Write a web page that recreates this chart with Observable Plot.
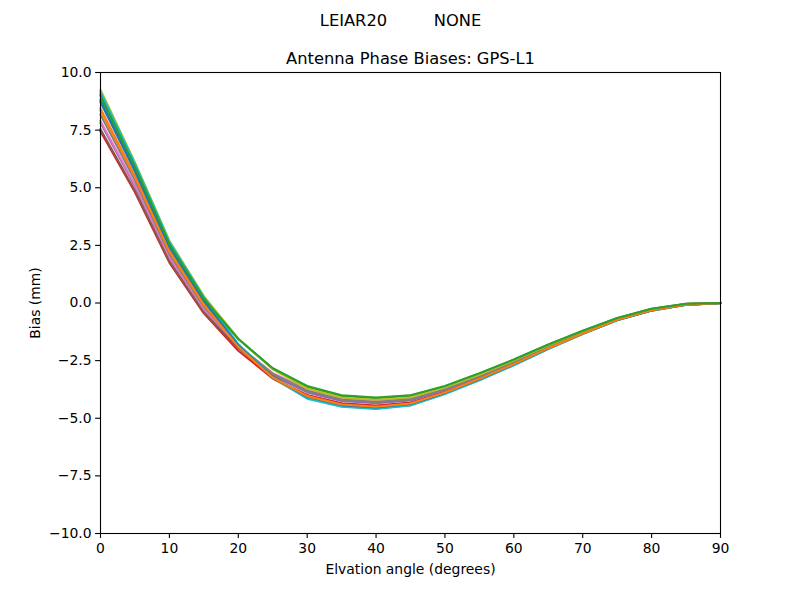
<!DOCTYPE html>
<html>
<head>
<meta charset="utf-8">
<script src="https://cdn.jsdelivr.net/npm/d3@7"></script>
<script src="https://cdn.jsdelivr.net/npm/@observablehq/plot@0.6"></script>
<style>
  html, body { margin: 0; padding: 0; background: #fff; }
  svg text { white-space: pre; }
</style>
</head>
<body>
<div id="chart"></div>
<script>
const elevations = [0,5,10,15,20,25,30,35,40,45,50,55,60,65,70,75,80,85,90];
const xTicks = [0,10,20,30,40,50,60,70,80,90];
const yTicks = [-10,-7.5,-5,-2.5,0,2.5,5,7.5,10];
const colors = ["#1f77b4","#ff7f0e","#2ca02c","#d62728","#9467bd","#8c564b","#e377c2","#7f7f7f","#bcbd22","#17becf"];

const series00 = [8.80,5.78,2.46,0.11,-1.83,-3.22,-4.10,-4.45,-4.55,-4.41,-3.92,-3.32,-2.68,-1.98,-1.34,-0.74,-0.32,-0.08,0];
const series01 = [8.44,5.52,2.27,-0.04,-1.92,-3.28,-4.12,-4.48,-4.58,-4.43,-3.93,-3.34,-2.69,-1.99,-1.34,-0.75,-0.33,-0.08,0];
const series02 = [9.07,5.97,2.61,0.23,-1.55,-2.84,-3.63,-4.03,-4.13,-4.02,-3.62,-3.07,-2.46,-1.81,-1.21,-0.66,-0.25,-0.03,0];
const series03 = [7.45,4.80,1.75,-0.45,-2.07,-3.27,-3.99,-4.35,-4.45,-4.32,-3.85,-3.26,-2.63,-1.94,-1.31,-0.72,-0.31,-0.07,0];
const series04 = [7.81,5.06,1.94,-0.30,-1.94,-3.15,-3.88,-4.25,-4.35,-4.23,-3.78,-3.20,-2.58,-1.90,-1.28,-0.70,-0.29,-0.06,0];
const series05 = [7.54,4.87,1.80,-0.41,-1.95,-3.10,-3.77,-4.15,-4.25,-4.14,-3.71,-3.14,-2.53,-1.86,-1.25,-0.68,-0.27,-0.05,0];
const series06 = [7.90,5.13,1.99,-0.26,-1.86,-3.04,-3.74,-4.13,-4.23,-4.11,-3.69,-3.13,-2.51,-1.85,-1.24,-0.68,-0.27,-0.04,0];
const series07 = [8.17,5.32,2.13,-0.15,-1.84,-3.08,-3.82,-4.20,-4.30,-4.18,-3.74,-3.17,-2.55,-1.88,-1.26,-0.69,-0.28,-0.05,0];
const series08 = [9.25,6.10,2.70,0.30,-1.55,-2.88,-3.71,-4.10,-4.20,-4.09,-3.67,-3.11,-2.50,-1.84,-1.23,-0.67,-0.27,-0.04,0];
const series09 = [9.16,6.04,2.65,0.26,-1.78,-3.23,-4.15,-4.50,-4.60,-4.45,-3.95,-3.35,-2.70,-2.00,-1.35,-0.75,-0.33,-0.08,0];
const series10 = [8.71,5.71,2.42,0.08,-1.84,-3.21,-4.07,-4.43,-4.53,-4.38,-3.90,-3.31,-2.66,-1.97,-1.33,-0.74,-0.32,-0.07,0];
const series11 = [8.35,5.45,2.23,-0.08,-1.90,-3.23,-4.04,-4.40,-4.50,-4.36,-3.88,-3.29,-2.65,-1.96,-1.32,-0.73,-0.31,-0.07,0];
const series12 = [8.98,5.91,2.56,0.19,-1.56,-2.83,-3.60,-4.00,-4.10,-4.00,-3.60,-3.05,-2.45,-1.80,-1.20,-0.65,-0.25,-0.03,0];

const allSeries = [series00,series01,series02,series03,series04,series05,series06,series07,series08,series09,series10,series11,series12];

const font = "DejaVu Sans, sans-serif";
const tickFont = 13.9;
const titleFont = 16.3;

const lineMarks = allSeries.map((s, i) =>
  Plot.line(elevations.map((e, j) => ({el: e, bias: s[j]})), {
    x: "el", y: "bias", stroke: colors[i % colors.length], strokeWidth: 2.08,
    strokeLinejoin: "round", strokeLinecap: "square"
  })
);

const chart = Plot.plot({
  width: 800,
  height: 600,
  marginLeft: 100,
  marginRight: 80,
  marginTop: 72,
  marginBottom: 67,
  style: {fontFamily: font, fontSize: tickFont + "px", color: "black", background: "white", overflow: "visible"},
  x: {domain: [0, 90]},
  y: {domain: [-10, 10]},
  marks: [
    ...lineMarks,
    Plot.frame({stroke: "black", strokeWidth: 1.1}),
    Plot.axisX({ticks: xTicks, tickSize: 4.9, tickPadding: 5, strokeWidth: 1.1, tickFormat: d3.format("d"), fontSize: tickFont, label: null}),
    Plot.axisY({ticks: yTicks, tickSize: 4.9, tickPadding: 4, strokeWidth: 1.1, tickFormat: d3.format(".1f"), fontSize: tickFont, label: null}),
    Plot.text(["Elvation angle (degrees)"], {frameAnchor: "bottom", lineAnchor: "middle", dy: 36, fontSize: tickFont, fill: "black"}),
    Plot.text(["Bias (mm)"], {frameAnchor: "left", textAnchor: "middle", lineAnchor: "middle", dx: -65, rotate: -90, fontSize: tickFont, fill: "black"}),
    Plot.text(["Antenna Phase Biases: GPS-L1"], {frameAnchor: "top", lineAnchor: "middle", dy: -14, fontSize: titleFont, fill: "black"}),
    Plot.text(["LEIAR20         NONE"], {frameAnchor: "top", lineAnchor: "middle", dy: -52, dx: -10, fontSize: titleFont, fill: "black"})
  ]
});

document.getElementById("chart").appendChild(chart);
</script>
</body>
</html>
